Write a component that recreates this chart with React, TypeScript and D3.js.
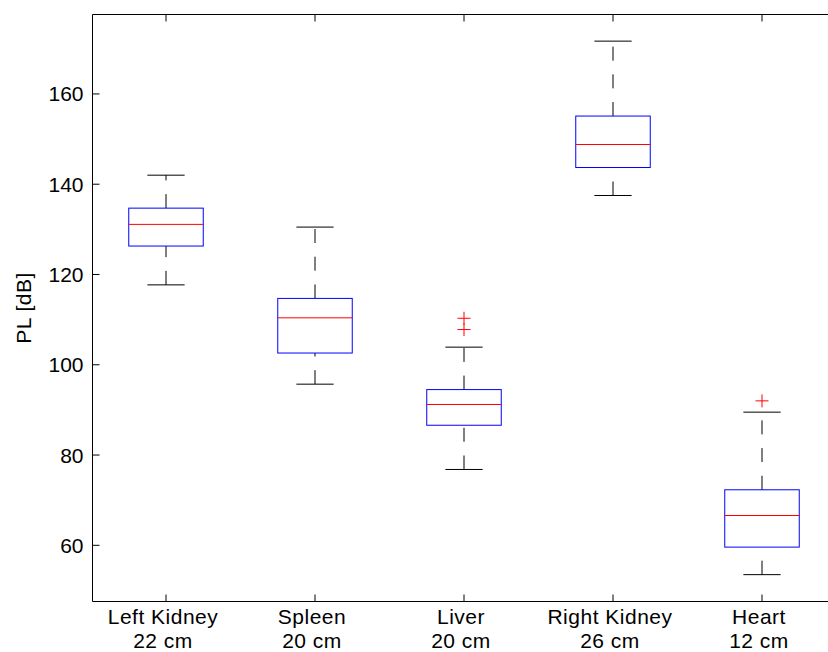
import React from "react";
import * as d3 from "d3";

const categories = ["Left Kidney", "Spleen", "Liver", "Right Kidney", "Heart"];
const subLabels = ["22 cm", "20 cm", "20 cm", "26 cm", "12 cm"];
const lowerWhisker = [117.7, 95.7, 76.8, 137.5, 53.5];
const q1 = [126.3, 102.6, 86.6, 143.7, 59.6];
const medians = [131.1, 110.4, 91.2, 148.8, 66.6];
const q3 = [134.7, 114.7, 94.5, 155.1, 72.3];
const upperWhisker = [142.0, 130.5, 103.9, 171.7, 89.5];
const outliers: number[][] = [[], [], [110.3, 107.8], [], [92.0]];
const yTicks = [60, 80, 100, 120, 140, 160];
const yLabel = "PL [dB]";

const W = 828;
const H = 652;
const FONT = "'Liberation Sans', Arial, Helvetica, sans-serif";

export default function App() {
  const x = d3.scaleLinear().domain([0.5, 5.5]).range([91.5, 836.5]);
  const y = d3.scaleLinear().domain([47.55, 177.6]).range([601.5, 14.5]);
  const left = 92.5;
  const top = 14.5;
  const bottom = 601.5;
  const right = 836.5;
  const boxHalf = x(1.25) - x(1);
  const capHalf = x(1.125) - x(1);
  const tickLen = 7;
  const plus = 6.5;

  return (
    <svg
      width={W}
      height={H}
      style={{ position: "absolute", left: 0, top: 0, background: "#fff" }}
      fontFamily={FONT}
    >
      <rect x={0} y={0} width={W} height={H} fill="#fff" />
      {/* y ticks */}
      {yTicks.map((t) => (
        <g key={t}>
          <line x1={left} x2={left + tickLen} y1={y(t)} y2={y(t)} stroke="#000" strokeWidth={1} />
          <text x={83.5} y={y(t) + 7.5} fontSize={21} textAnchor="end" fill="#000">
            {t}
          </text>
        </g>
      ))}
      {/* x ticks */}
      {categories.map((c, i) => (
        <g key={c}>
          <line x1={x(i + 1)} x2={x(i + 1)} y1={bottom} y2={bottom - tickLen} stroke="#000" strokeWidth={1} />
          <line x1={x(i + 1)} x2={x(i + 1)} y1={top} y2={top + tickLen} stroke="#000" strokeWidth={1} />
          <text x={x(i + 1) - 3} y={624} fontSize={21} textAnchor="middle" letterSpacing={0.5} fill="#000">
            {c}
          </text>
          <text x={x(i + 1) - 3} y={648} fontSize={21} textAnchor="middle" letterSpacing={0.5} fill="#000">
            {subLabels[i]}
          </text>
        </g>
      ))}
      {/* boxes */}
      {categories.map((c, i) => {
        const cx = x(i + 1);
        return (
          <g key={"b" + c}>
            <line x1={cx} x2={cx} y1={y(q3[i])} y2={y(upperWhisker[i])} stroke="#000" strokeWidth={1} strokeDasharray="14 13.7" />
            <line x1={cx} x2={cx} y1={y(lowerWhisker[i])} y2={y(q1[i])} stroke="#000" strokeWidth={1} strokeDasharray="14 13.7" />
            <line x1={cx - capHalf} x2={cx + capHalf} y1={y(upperWhisker[i])} y2={y(upperWhisker[i])} stroke="#000" strokeWidth={1} />
            <line x1={cx - capHalf} x2={cx + capHalf} y1={y(lowerWhisker[i])} y2={y(lowerWhisker[i])} stroke="#000" strokeWidth={1} />
            <rect
              x={cx - boxHalf}
              y={y(q3[i])}
              width={boxHalf * 2}
              height={y(q1[i]) - y(q3[i])}
              fill="none"
              stroke="#0000ff"
              strokeWidth={1}
            />
            <line x1={cx - boxHalf} x2={cx + boxHalf} y1={y(medians[i])} y2={y(medians[i])} stroke="#ff0000" strokeWidth={1} />
            {outliers[i].map((o, j) => (
              <g key={j}>
                <line x1={cx - plus} x2={cx + plus} y1={y(o)} y2={y(o)} stroke="#ff0000" strokeWidth={1} />
                <line x1={cx} x2={cx} y1={y(o) - plus} y2={y(o) + plus} stroke="#ff0000" strokeWidth={1} />
              </g>
            ))}
          </g>
        );
      })}
      {/* frame */}
      <path
        d={`M${right},${top}H${left}V${bottom}H${right}`}
        fill="none"
        stroke="#000"
        strokeWidth={1}
      />
      <text
        transform={`translate(31, ${(top + bottom) / 2}) rotate(-90)`}
        fontSize={21}
        textAnchor="middle"
        letterSpacing={0.5}
        fill="#000"
      >
        {yLabel}
      </text>
    </svg>
  );
}
